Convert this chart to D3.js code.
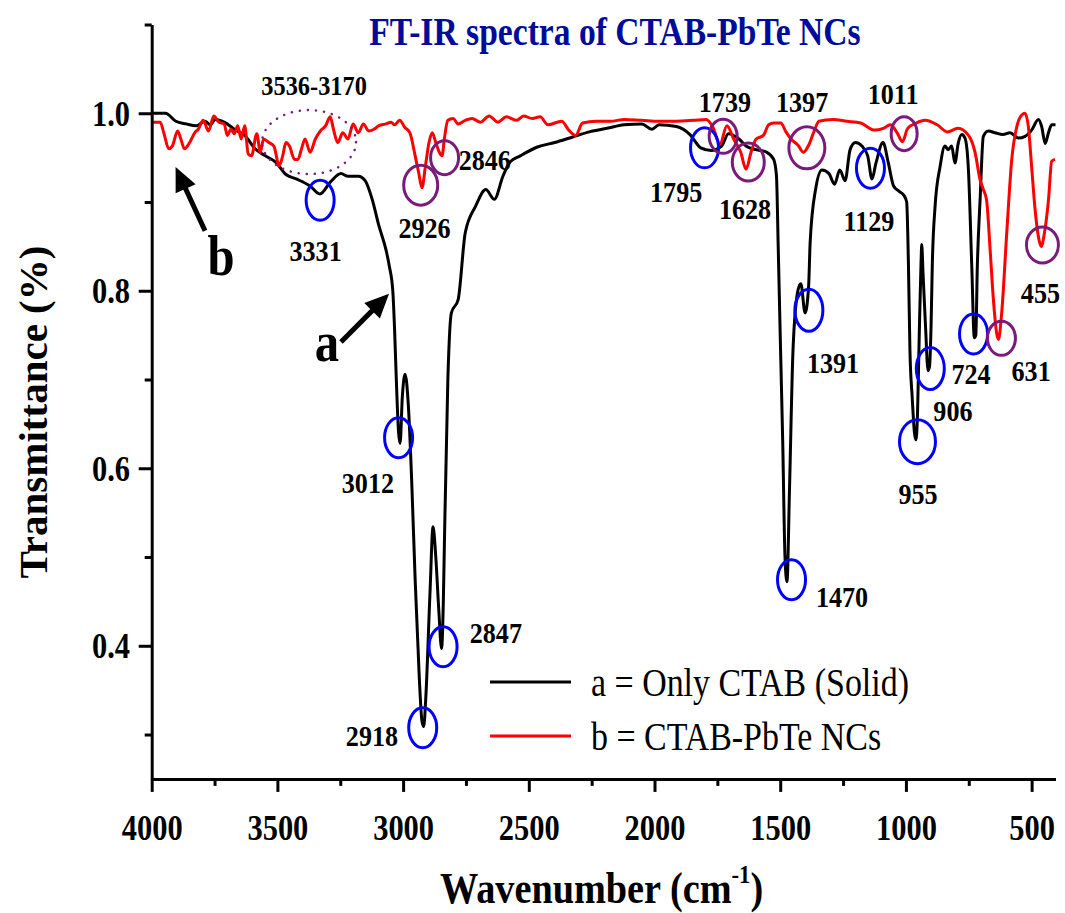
<!DOCTYPE html>
<html><head><meta charset="utf-8">
<script src="https://cdn.jsdelivr.net/npm/d3@7"></script>
<style>body{margin:0;background:#fff} svg{display:block}</style>
</head><body>
<svg id="c" width="1065" height="913"></svg>
<script>
// ---------- DATA ----------
// Series a: Only CTAB (Solid)  (wavenumber cm-1, transmittance)
const wnA = [4000,3945,3904,3863,3822,3788,3767,3747,3712,3671,3630,3589,3548,3507,3466,3425,3370,3331,3288,3247,3219,3178,3151,3123,3096,3068,3055,3041,3034,3027,3018,3012,3003,2992,2979,2966,2952,2935,2925,2918,2910,2893,2881,2870,2858,2847,2840,2836,2822,2808,2781,2753,2712,2671,2637,2603,2575,2534,2466,2397,2328,2259,2189,2121,2051,2010,1982,1913,1859,1816,1775,1733,1706,1664,1636,1596,1553,1526,1515,1508,1500,1490,1481,1473,1463,1449,1429,1418,1401,1387,1381,1360,1334,1306,1284,1263,1242,1222,1201,1175,1152,1135,1119,1091,1070,1049,1027,1007,997,990,984,975,966,960,954,947,940,937,932,922,912,906,900,895,884,864,845,832,818,805,792,778,765,752,738,728,722,716,705,692,672,646,614,586,553,526,500,473,460,446,433,420,405];
const tA  = [1.000,1.000,0.991,0.988,0.986,0.991,0.987,0.993,0.990,0.982,0.975,0.960,0.952,0.945,0.931,0.926,0.918,0.909,0.923,0.932,0.929,0.929,0.924,0.903,0.873,0.846,0.828,0.800,0.757,0.700,0.640,0.628,0.681,0.706,0.670,0.587,0.474,0.360,0.315,0.309,0.340,0.460,0.534,0.500,0.440,0.397,0.450,0.511,0.700,0.775,0.790,0.865,0.895,0.914,0.903,0.929,0.945,0.952,0.962,0.967,0.973,0.979,0.983,0.987,0.988,0.982,0.987,0.985,0.976,0.961,0.958,0.963,0.977,0.971,0.963,0.959,0.956,0.948,0.930,0.850,0.750,0.630,0.500,0.472,0.577,0.734,0.801,0.808,0.775,0.805,0.854,0.913,0.936,0.932,0.920,0.936,0.924,0.959,0.967,0.963,0.952,0.926,0.944,0.967,0.944,0.918,0.912,0.907,0.900,0.830,0.733,0.680,0.640,0.632,0.660,0.750,0.830,0.852,0.820,0.760,0.710,0.715,0.760,0.830,0.895,0.940,0.963,0.959,0.963,0.944,0.966,0.976,0.972,0.940,0.827,0.747,0.750,0.827,0.902,0.974,0.980,0.978,0.976,0.978,0.972,0.974,0.981,0.993,0.985,0.966,0.978,0.987,0.987];
// Series b: CTAB-PbTe NCs
const wnB = [4000,3966,3952,3932,3918,3897,3884,3870,3849,3829,3815,3795,3774,3753,3733,3712,3699,3685,3671,3658,3644,3630,3616,3603,3582,3568,3555,3534,3514,3493,3479,3466,3452,3432,3418,3404,3390,3370,3349,3329,3308,3290,3277,3260,3240,3219,3199,3178,3158,3137,3116,3096,3068,3048,3034,3014,2993,2973,2952,2938,2925,2911,2897,2884,2870,2856,2845,2836,2822,2801,2781,2753,2726,2692,2658,2623,2589,2548,2521,2486,2455,2424,2369,2341,2314,2286,2231,2175,2120,2051,1982,1913,1844,1795,1767,1740,1712,1685,1657,1636,1616,1596,1567,1546,1526,1498,1477,1457,1429,1408,1387,1366,1346,1291,1235,1180,1125,1090,1062,1035,1014,993,959,924,876,835,793,751,725,705,692,679,665,652,639,632,619,599,579,559,539,526,513,500,486,473,462,449,433,420,407];
const tB  = [0.990,0.990,0.978,0.960,0.963,0.980,0.971,0.960,0.967,0.978,0.982,0.992,0.980,0.997,0.990,0.988,0.975,0.982,0.977,0.986,0.971,0.986,0.954,0.952,0.977,0.956,0.971,0.967,0.963,0.941,0.952,0.967,0.963,0.948,0.948,0.960,0.971,0.956,0.971,0.980,0.986,0.996,0.982,0.967,0.978,0.971,0.988,0.978,0.988,0.980,0.982,0.986,0.988,0.990,0.987,0.992,0.984,0.978,0.952,0.933,0.916,0.941,0.967,0.978,0.967,0.956,0.952,0.971,0.992,0.994,0.988,0.992,0.994,0.990,0.997,0.990,0.996,0.992,0.997,0.994,0.996,0.987,0.991,0.981,0.975,0.989,0.991,0.991,0.993,0.992,0.991,0.991,0.992,0.993,0.984,0.965,0.986,0.971,0.956,0.937,0.956,0.971,0.975,0.987,0.989,0.989,0.979,0.971,0.964,0.956,0.964,0.979,0.991,0.993,0.991,0.989,0.981,0.983,0.987,0.978,0.968,0.983,0.989,0.992,0.987,0.979,0.983,0.975,0.956,0.925,0.914,0.902,0.846,0.790,0.752,0.745,0.775,0.865,0.948,0.985,0.998,1.000,0.985,0.940,0.891,0.861,0.850,0.865,0.902,0.946,0.948];

const xTicks = [4000,3500,3000,2500,2000,1500,1000,500];
const xMinor = [3750,3250,2750,2250,1750,1250,750];
const yTicks = [0.4,0.6,0.8,1.0];
const yMinor = [0.3,0.5,0.7,0.9,1.1];

const seriesNames = ["a = Only CTAB (Solid)", "b = CTAB-PbTe NCs"];
const titleText = "FT-IR spectra of CTAB-PbTe NCs";

// peak labels: [text, wavenumber position, transmittance position (baseline)]
const peakLabels = [
  ["3536-3170",3354,1.021],["3331",3348,0.834],["2926",2915,0.859],["2846",2675,0.9355],
  ["3012",3140,0.5716],["2847",2631,0.4036],["2918",3124,0.2871],
  ["1739",1720,1.0015],["1397",1413,1.0015],["1011",1051,1.0101],["1795",1914,0.9005],
  ["1628",1640,0.881],["1129",1147,0.867],["455",465,0.786],["1391",1290,0.7074],
  ["724",741,0.6947],["631",502,0.6986],["906",813,0.6535],["955",952,0.5595],["1470",1254,0.4437]
];
// circled peaks of series a (blue): [wavenumber, T, rx, ry]
const blueCircles = [
  [3330,0.902,14,20],[3018,0.6345,14,20],[2922,0.3077,14,20],[2841,0.399,14,20],
  [1801,0.961,14,20],[1386,0.778,14,21],[1455,0.4745,14,20],[1141,0.938,14,20],
  [954,0.630,18,22],[903,0.7123,14,21],[731,0.7514,14,20]
];
// circled peaks of series b (purple)
const purpleCircles = [
  [2930,0.919,17,20],[2835,0.950,14,17],[1727,0.974,14,17],[1627,0.945,16,19],
  [1394,0.961,18,21],[1007,0.977,13,17],[620,0.7464,14,17],[457,0.8516,16,18]
];
const dottedRegion = [3374,0.9675,47,32];
// series markers: [letter, label wn, label T, arrow tail wn, tail T, tip wn, tip T]
const seriesMarks = [
  ["a",3303,0.7209,3247,0.7423,3056,0.7966],
  ["b",3724,0.8172,3788,0.8677,3905,0.9395]
];

// ---------- DRAW ----------
const SX = 0.87;
const FONT = "'Liberation Serif','Times New Roman',serif";
const svg = d3.select("#c");
const x = d3.scaleLinear().domain([4000,405]).range([151.7,1055.5]);
const y = d3.scaleLinear().domain([0.25,1.1]).range([778.9,24.5]);

function sqText(txt, px, py, size, opts={}) {
  const t = svg.append("text")
    .attr("transform", `translate(${px},${py}) scale(${opts.sx||SX},1)`)
    .attr("text-anchor", opts.anchor||"middle")
    .attr("font-family", FONT)
    .attr("font-weight", opts.weight||"bold")
    .attr("font-size", size)
    .attr("fill", opts.fill||"#000")
    .text(txt);
  return t;
}

// curves
const line = d3.line().x(d=>x(d[0])).y(d=>y(d[1])).curve(d3.curveMonotoneX);
svg.append("path").datum(wnA.map((w,i)=>[w,tA[i]]))
  .attr("d", line).attr("fill","none").attr("stroke","#000").attr("stroke-width",3).attr("stroke-linejoin","round");
svg.append("path").datum(wnB.map((w,i)=>[w,tB[i]]))
  .attr("d", line).attr("fill","none").attr("stroke","#ff0000").attr("stroke-width",3).attr("stroke-linejoin","round");

// axes
const gx = svg.append("g").attr("transform",`translate(0,${y(0.25)})`)
  .call(d3.axisBottom(x).tickValues(xTicks).tickSize(13).tickSizeOuter(0).tickFormat(d3.format("d")));
const gxm = svg.append("g").attr("transform",`translate(0,${y(0.25)})`)
  .call(d3.axisBottom(x).tickValues(xMinor).tickSize(7).tickSizeOuter(0).tickFormat(""));
const gy = svg.append("g").attr("transform",`translate(${x(4000)},0)`)
  .call(d3.axisLeft(y).tickValues(yTicks).tickSize(13).tickSizeOuter(0).tickFormat(d3.format(".1f")));
const gym = svg.append("g").attr("transform",`translate(${x(4000)},0)`)
  .call(d3.axisLeft(y).tickValues(yMinor).tickSize(7).tickSizeOuter(0).tickFormat(""));
[gx,gxm,gy,gym].forEach(g=>{
  g.select(".domain").attr("stroke","#000").attr("stroke-width",3);
  g.selectAll(".tick line").attr("stroke","#000").attr("stroke-width",3);
});
gxm.select(".domain").remove(); gym.select(".domain").remove();
gx.selectAll(".tick text").attr("font-family",FONT).attr("font-weight","bold").attr("font-size",35)
  .attr("fill","#000").attr("y",61).attr("dy",0).attr("transform",`scale(${SX},1)`);
gy.selectAll(".tick text").attr("font-family",FONT).attr("font-weight","bold").attr("font-size",35)
  .attr("fill","#000").attr("x",-21.7/SX).attr("dy","0.34em").attr("transform",`scale(${SX},1)`);

// title
sqText(titleText, 615, 44.5, 40, {fill:"#000c99", sx:0.84});

// axis titles
svg.append("text").attr("transform","translate(47,412) rotate(-90)")
  .attr("text-anchor","middle").attr("font-family",FONT).attr("font-weight","bold")
  .attr("font-size",41).attr("fill","#000").text("Transmittance (%)");
const xt = svg.append("text").attr("transform",`translate(440,903) scale(${SX},1)`)
  .attr("text-anchor","start").attr("font-family",FONT).attr("font-weight","bold")
  .attr("font-size",44).attr("fill","#000");
xt.append("tspan").text("Wavenumber (cm");
xt.append("tspan").attr("font-size",26).attr("dy",-20).text("-1");
xt.append("tspan").attr("dy",20).text(")");

// dotted region
svg.append("ellipse").attr("cx",x(dottedRegion[0])).attr("cy",y(dottedRegion[1]))
  .attr("rx",dottedRegion[2]).attr("ry",dottedRegion[3])
  .attr("fill","none").attr("stroke","#7a1a7a").attr("stroke-width",2.5)
  .attr("stroke-dasharray","0.1 8").attr("stroke-linecap","round");

// circles
svg.selectAll("ellipse.blue").data(blueCircles).enter().append("ellipse").attr("class","blue")
  .attr("cx",d=>x(d[0])).attr("cy",d=>y(d[1])).attr("rx",d=>d[2]).attr("ry",d=>d[3])
  .attr("fill","none").attr("stroke","#0000ff").attr("stroke-width",3);
svg.selectAll("ellipse.purple").data(purpleCircles).enter().append("ellipse").attr("class","purple")
  .attr("cx",d=>x(d[0])).attr("cy",d=>y(d[1])).attr("rx",d=>d[2]).attr("ry",d=>d[3])
  .attr("fill","none").attr("stroke","#7a1a7a").attr("stroke-width",3);

// peak labels
peakLabels.forEach(p=>{
  sqText(p[0], x(p[1]), y(p[2]), p[0].length>4 ? 28 : 30);
});

// series letters and arrows
function arrow(x1,y1,x2,y2){
  const dx=x2-x1, dy=y2-y1, L=Math.hypot(dx,dy), ux=dx/L, uy=dy/L;
  const hl=24, hw=11;
  const bx=x2-ux*hl, by=y2-uy*hl;
  svg.append("line").attr("x1",x1).attr("y1",y1).attr("x2",bx+ux*2).attr("y2",by+uy*2)
    .attr("stroke","#000").attr("stroke-width",5);
  svg.append("path").attr("d",`M${x2},${y2}L${bx-uy*hw},${by+ux*hw}L${bx+uy*hw},${by-ux*hw}Z`).attr("fill","#000");
}
seriesMarks.forEach(m=>{
  sqText(m[0], x(m[1]), y(m[2]), 56);
  arrow(x(m[3]),y(m[4]),x(m[5]),y(m[6]));
});

// legend
const legColors = ["#000","#ff0000"];
const legY = [682,736];
seriesNames.forEach((n,i)=>{
  svg.append("line").attr("x1",490).attr("x2",571).attr("y1",legY[i]).attr("y2",legY[i])
    .attr("stroke",legColors[i]).attr("stroke-width",3);
  sqText(n, 591, legY[i]+14, 39, {anchor:"start", weight:"normal"});
});
</script>
</body></html>
